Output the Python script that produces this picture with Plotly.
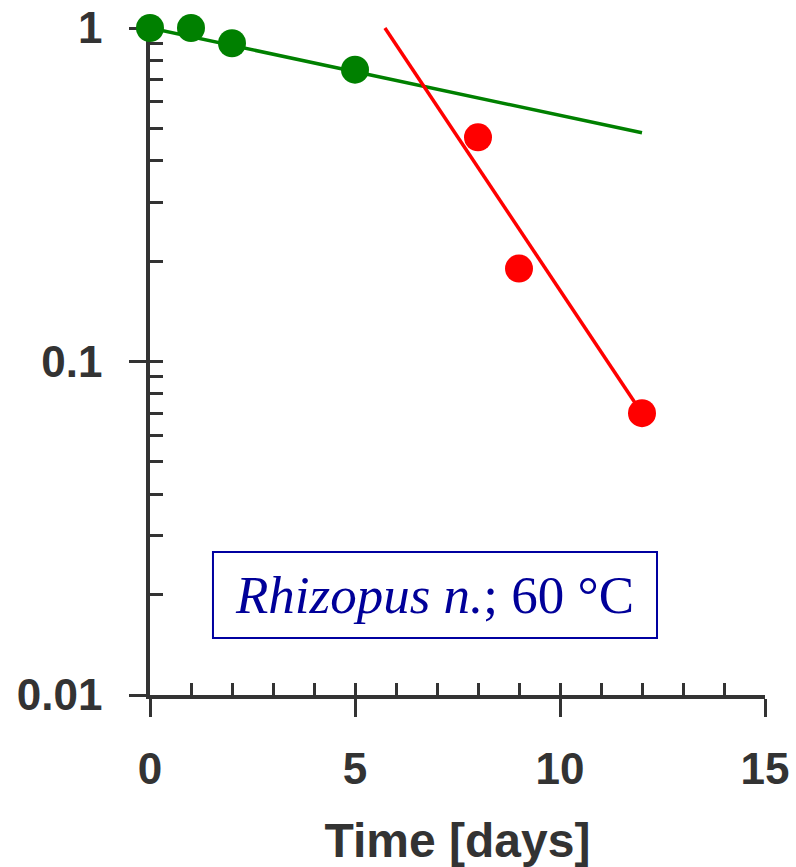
import plotly.graph_objects as go

# Data
green_days = [0, 1, 2, 5]
green_surv = [1.0, 1.0, 0.90, 0.75]
red_days = [8, 9, 12]
red_surv = [0.47, 0.19, 0.07]

green_fit_days = [0, 12]
green_fit_surv = [1.0, 0.485]
red_fit_days = [5.73, 12]
red_fit_surv = [1.0, 0.07]

x_ticks = [0, 5, 10, 15]
x_tick_labels = ["0", "5", "10", "15"]
y_ticks = [1, 0.1, 0.01]
y_tick_labels = ["1", "0.1", "0.01"]

label_text = "<i>Rhizopus n.</i>; 60 °C"

AX = "#333333"
TICKFONT = dict(family="Liberation Sans, Arial", size=44, color=AX, weight="bold")

fig = go.Figure()
fig.add_trace(go.Scatter(x=green_fit_days, y=green_fit_surv, mode="lines",
                         line=dict(color="#008000", width=3.5), showlegend=False, hoverinfo="skip"))
fig.add_trace(go.Scatter(x=red_fit_days, y=red_fit_surv, mode="lines",
                         line=dict(color="#ff0000", width=3.5), showlegend=False, hoverinfo="skip"))
fig.add_trace(go.Scatter(x=green_days, y=green_surv, mode="markers",
                         marker=dict(color="#008000", size=28), cliponaxis=False, showlegend=False))
fig.add_trace(go.Scatter(x=red_days, y=red_surv, mode="markers",
                         marker=dict(color="#ff0000", size=28), cliponaxis=False, showlegend=False))
# dummy trace to activate overlay axes for inside ticks
fig.add_trace(go.Scatter(x=[None], y=[None], xaxis="x2", yaxis="y2", showlegend=False, hoverinfo="skip"))

fig.update_layout(
    width=796, height=867,
    margin=dict(l=150, r=31, t=27, b=172),
    paper_bgcolor="white", plot_bgcolor="white",
    xaxis=dict(range=[0, 15], tickvals=x_ticks, ticktext=x_tick_labels,
               ticks="outside", ticklen=18, tickwidth=3, tickcolor=AX,
               showline=True, linewidth=3.5, linecolor=AX, showgrid=False, zeroline=False,
               tickfont=TICKFONT, ticklabelstandoff=14, ticklabeloverflow="allow",
               layer="below traces", automargin=False,
               title=dict(text="Time [days]", font=dict(family="Liberation Sans, Arial", size=48, color=AX, weight="bold"),
                          standoff=40)),
    yaxis=dict(type="log", range=[-2, 0.003], tickvals=y_ticks, ticktext=y_tick_labels,
               ticks="outside", ticklen=17, tickwidth=3, tickcolor=AX,
               showline=True, linewidth=3.5, linecolor=AX, showgrid=False, zeroline=False,
               tickfont=TICKFONT, ticklabelstandoff=18, ticklabeloverflow="allow",
               layer="below traces", automargin=False),
    xaxis2=dict(range=[0, 15], overlaying="x", anchor="y2", side="bottom", dtick=1, tick0=0,
                ticks="inside", ticklen=12, tickwidth=3, tickcolor=AX, automargin=False,
                showticklabels=False, showline=False, showgrid=False, zeroline=False, layer="below traces"),
    yaxis2=dict(type="log", range=[-2, 0.003], overlaying="y", anchor="x2", side="left", dtick="D1",
                ticks="inside", ticklen=13, tickwidth=3, tickcolor=AX, automargin=False,
                showticklabels=False, showline=False, showgrid=False, zeroline=False, layer="below traces"),
    shapes=[dict(type="rect", xref="paper", yref="paper", x0=0.1024, x1=0.8244, y0=0.0853, y1=0.2141,
                 line=dict(color="#0000a0", width=2), fillcolor="white", layer="above")],
    annotations=[dict(text=label_text, xref="paper", yref="paper", x=0.4634, y=0.1497,
                      xanchor="center", yanchor="middle", showarrow=False,
                      font=dict(family="Liberation Serif, Times New Roman", size=53, color="#000099"))],
)

fig.write_html("out.html", config={"displayModeBar": False},
               post_script="document.body.style.margin='0';document.body.style.overflow='hidden';")
